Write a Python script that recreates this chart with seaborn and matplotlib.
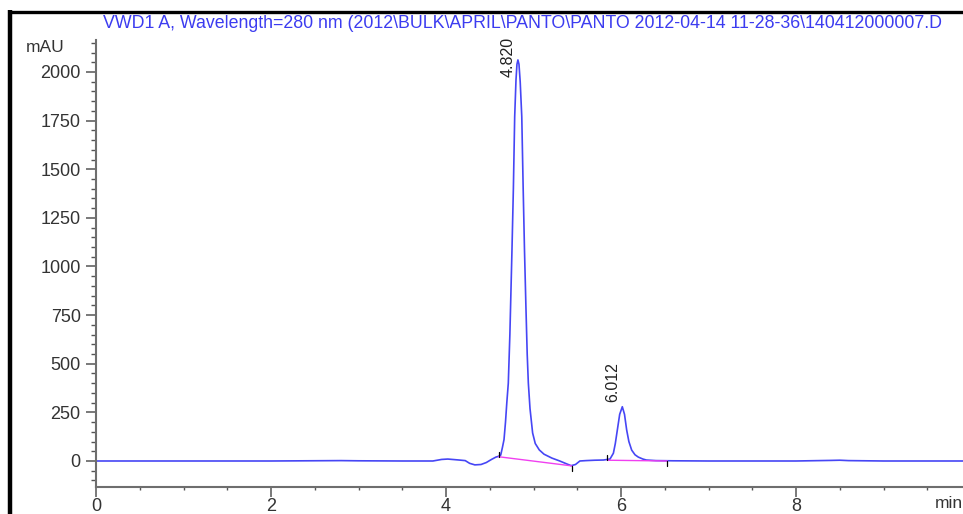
import matplotlib
matplotlib.use("Agg")
import matplotlib.pyplot as plt
from matplotlib.lines import Line2D
from matplotlib.ticker import MultipleLocator
import seaborn as sns
import pandas as pd

# ---- data ----
time_min = [0.0, 1.0, 2.0, 2.8, 3.0, 3.5, 3.85, 3.95, 4.02, 4.15, 4.22, 4.27, 4.33,
            4.40, 4.46, 4.52, 4.57, 4.60, 4.625, 4.645, 4.663, 4.68, 4.695, 4.712,
            4.73, 4.754, 4.77, 4.785, 4.80, 4.811, 4.822, 4.834, 4.848, 4.866,
            4.882, 4.897, 4.913, 4.928, 4.941, 4.96, 4.99, 5.02, 5.066, 5.12,
            5.21, 5.30, 5.38, 5.43, 5.48, 5.53, 5.60, 5.70, 5.80, 5.874, 5.913,
            5.935, 5.958, 5.985, 6.015, 6.04, 6.065, 6.09, 6.122, 6.16, 6.198,
            6.25, 6.29, 6.4, 6.6, 7.0, 8.0, 8.4, 8.5, 8.6, 9.0, 9.91]
mau = [0, 0, 0, 2, 1, 0, 0, 8, 10, 5, 2, -12, -20,
       -18, -8, 8, 20, 24, 30, 70, 110, 200, 300, 400,
       650, 1085, 1400, 1770, 1960, 2040, 2062, 2040, 1950, 1770,
       1400, 1085, 800, 550, 401, 270, 144, 90, 57, 35,
       15, 0, -15, -24, -18, 0, 2, 4, 5, 10, 40,
       90, 159, 240, 279, 240, 159, 100, 56, 32, 20,
       10, 5, 2, 1, 0, 0, 3, 4, 2, 0, 0]

# integration baselines (start/end time, start/end value)
base_t0 = [4.60, 5.845]
base_t1 = [5.435, 6.53]
base_v0 = [22, 4]
base_v1 = [-25, 0]

peak_labels = ["4.820", "6.012"]
label_x = [4.715, 5.91]
label_y = [1975, 303]

title = "VWD1 A, Wavelength=280 nm (2012\\BULK\\APRIL\\PANTO\\PANTO 2012-04-14 11-28-36\\140412000007.D"

# ---- figure ----
sns.set_style("ticks")
plt.rcParams["font.family"] = ["Liberation Sans", "DejaVu Sans"]

W, H = 963, 514
fig = plt.figure(figsize=(W / 100, H / 100), dpi=100)
ax = fig.add_axes([96 / W, 1 - 487 / H, (W - 96) / W, (487 - 40) / H])

df = pd.DataFrame({"t": time_min, "v": mau})
sns.lineplot(data=df, x="t", y="v", sort=False, estimator=None, ax=ax,
             color="#4646f5", linewidth=1.2)

for t0, t1, v0, v1 in zip(base_t0, base_t1, base_v0, base_v1):
    ax.plot([t0, t1], [v0, v1], color="#f040f0", linewidth=1.0)
    ax.plot([t0, t0], [v0, v0 + 26], color="black", linewidth=0.9)
    ax.plot([t1, t1], [v1, v1 - 26], color="black", linewidth=0.9)

for lx, ly, lab in zip(label_x, label_y, peak_labels):
    ax.text(lx, ly, lab, rotation=90, ha="center", va="bottom",
            fontsize=11.5, color="#222222")

ax.set_xlim(0, (W - 96) / 87.5)
ax.set_ylim(-133.7, 2164.5)
ax.xaxis.set_major_locator(MultipleLocator(2))
ax.xaxis.set_minor_locator(MultipleLocator(0.5))
ax.yaxis.set_major_locator(MultipleLocator(250))
ax.yaxis.set_minor_locator(MultipleLocator(50))
ax.set_xlabel("")
ax.set_ylabel("")

for s in ["top", "right"]:
    ax.spines[s].set_visible(False)
for s in ["left", "bottom"]:
    ax.spines[s].set_color("#6e6e6e")
    ax.spines[s].set_linewidth(1.5)

ax.tick_params(axis="both", which="major", length=7, width=1.1, color="#555555",
               labelsize=13, labelcolor="#333333")
ax.tick_params(axis="both", which="minor", length=3.6, width=1.0, color="#555555")
ax.tick_params(axis="y", which="major", pad=4)
ax.tick_params(axis="x", which="major", pad=1)
ax.tick_params(axis="x", which="minor", length=2.5)

fig.text(65 / W, 1 - 48 / H, "mAU", ha="right", va="center", fontsize=12.5, color="#333333")
fig.text(935 / W, 1 - 504 / H, "min", ha="left", va="center", fontsize=12.5, color="#333333")
fig.text(103 / W, 1 - 28 / H, title, ha="left", va="baseline", fontsize=12.8, color="#3c3cf0")

# black frame remnants on the left and top
fig.add_artist(Line2D([10 / W, 10 / W], [0, 1 - 10 / H], color="black", linewidth=3.2,
                      transform=fig.transFigure, solid_capstyle="butt"))
fig.add_artist(Line2D([8 / W, 1], [1 - 11.5 / H, 1 - 11.5 / H], color="black", linewidth=2.4,
                      transform=fig.transFigure, solid_capstyle="butt"))

fig.savefig("out.png", dpi=100)
